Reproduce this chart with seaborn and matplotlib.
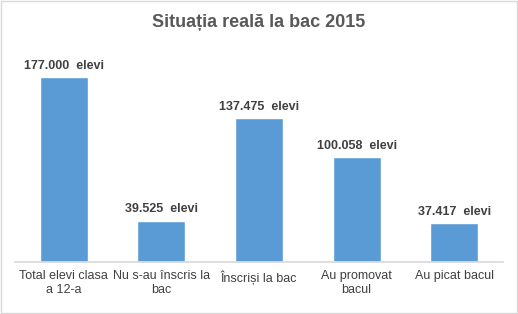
import matplotlib
matplotlib.use("Agg")
import matplotlib.pyplot as plt
import seaborn as sns
import pandas as pd

categories = ["Total elevi clasa\na 12-a", "Nu s-au înscris la\nbac", "Înscriși la bac", "Au promovat\nbacul", "Au picat bacul"]
values = [177000, 39525, 137475, 100058, 37417]
labels = ["177.000  elevi", "39.525  elevi", "137.475  elevi", "100.058  elevi", "37.417  elevi"]

sns.set_theme(style="white")
plt.rcParams['font.family'] = ['Liberation Sans', 'DejaVu Sans']

df = pd.DataFrame({"cat": categories, "val": values})

fig = plt.figure(figsize=(5.18, 3.14), dpi=100)
ax = fig.add_axes([0.029, 0.1656, 0.942, 0.666])
sns.barplot(data=df, x="cat", y="val", color="#5B9BD5", saturation=1, width=0.49, ax=ax)
ax.set_ylim(0, 200000)
ax.set_xlim(-0.5, 4.5)
for i, (v, l) in enumerate(zip(values, labels)):
    ax.text(i, v + 5000, l, ha="center", va="bottom", fontsize=9, fontweight="bold", color="#404040")
ax.set_yticks([])
ax.set_xlabel("")
ax.set_ylabel("")
for s in ["top", "left", "right"]:
    ax.spines[s].set_visible(False)
ax.spines["bottom"].set_color("#D9D9D9")
ax.tick_params(axis="x", length=0, labelsize=9, labelcolor="#404040", pad=6)
fig.suptitle("Situația reală la bac 2015", y=0.955, fontsize=13, fontweight="bold", color="#595959")
fig.patches.append(matplotlib.patches.Rectangle((0.002, 0.003), 0.996, 0.994, transform=fig.transFigure,
                                                fill=False, edgecolor="#D9D9D9", linewidth=1))
fig.savefig("out.png", dpi=100)
